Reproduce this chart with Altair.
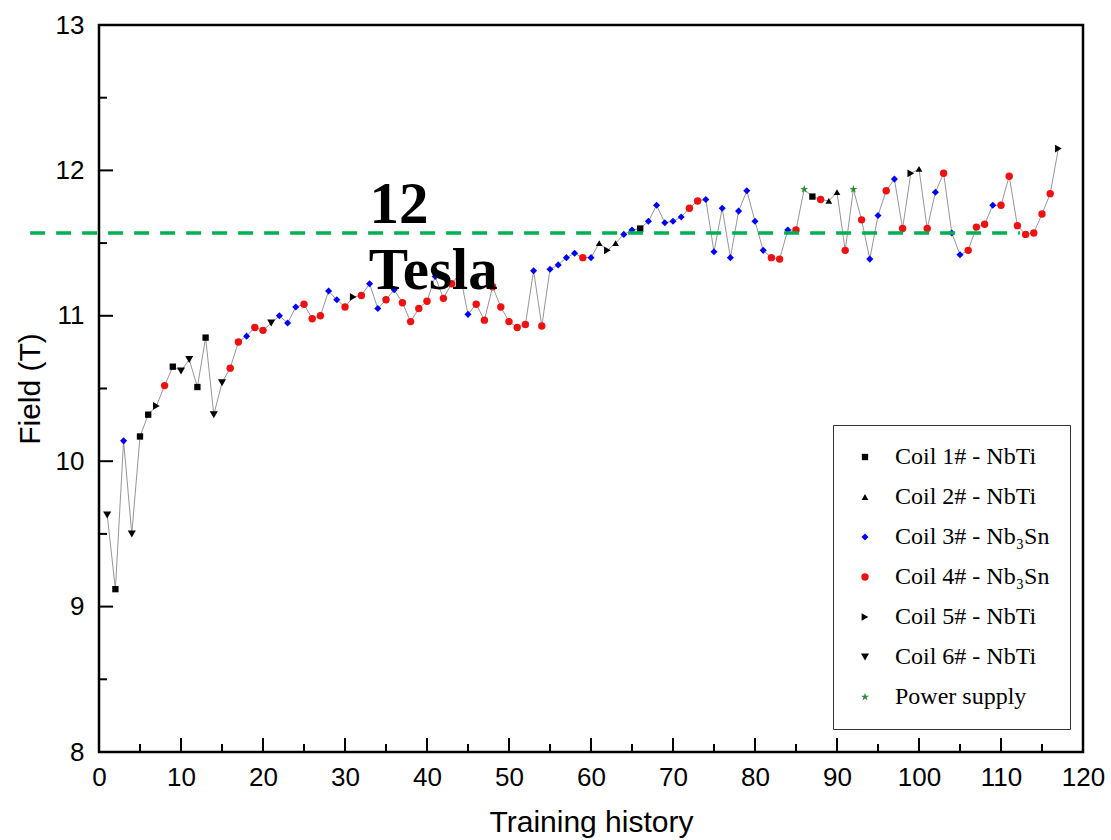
import altair as alt
import pandas as pd

# ---------------- data ----------------
series_names = [
    "Coil 1# - NbTi",
    "Coil 2# - NbTi",
    "Coil 3# - Nb\u2083Sn",
    "Coil 4# - Nb\u2083Sn",
    "Coil 5# - NbTi",
    "Coil 6# - NbTi",
    "Power supply",
]
series_colors = ["#000000", "#000000", "#0000ff", "#ee1111", "#000000", "#000000", "#2e8b2e"]
star_path = ("M0,-1L0.2245,-0.309L0.9511,-0.309L0.3633,0.118L0.5878,0.809L0,0.382"
             "L-0.5878,0.809L-0.3633,0.118L-0.9511,-0.309L-0.2245,-0.309Z")
series_shapes = ["square", "triangle-up", "diamond", "circle", "triangle-right", "triangle-down", star_path]
series_sizes = [40, 70, 90, 64, 70, 70, 90]

# quench sequence: series code (1..6 coils, 7 = power supply) and field (T)
quench_series = [
    6, 1, 3, 6, 1, 1, 5, 4, 1, 6,
    6, 1, 1, 6, 6, 4, 4, 3, 4, 4,
    6, 3, 3, 3, 4, 4, 4, 3, 3, 4,
    5, 4, 3, 3, 4, 3, 4, 4, 4, 4,
    3, 4, 4, 3, 3, 4, 4, 4, 4, 4,
    4, 4, 3, 4, 3, 3, 3, 3, 4, 3,
    2, 5, 2, 3, 3, 1, 3, 3, 3, 3,
    3, 4, 4, 3, 3, 3, 3, 3, 3, 3,
    3, 4, 4, 3, 4, 7, 1, 4, 2, 2,
    4, 7, 4, 3, 3, 4, 3, 4, 5, 2,
    4, 3, 4, 3, 3, 4, 4, 4, 3, 4,
    4, 4, 4, 4, 4, 4, 5,
]
quench_field = [
    9.63, 9.12, 10.14, 9.50, 10.17, 10.32, 10.38, 10.52, 10.65, 10.62,
    10.70, 10.51, 10.85, 10.32, 10.54, 10.64, 10.82, 10.86, 10.92, 10.90,
    10.95, 11.00, 10.95, 11.06, 11.08, 10.98, 11.00, 11.17, 11.11, 11.06,
    11.13, 11.14, 11.22, 11.05, 11.11, 11.18, 11.09, 10.96, 11.05, 11.10,
    11.27, 11.12, 11.22, 11.29, 11.01, 11.08, 10.97, 11.20, 11.06, 10.96,
    10.92, 10.94, 11.31, 10.93, 11.32, 11.35, 11.40, 11.43, 11.40, 11.40,
    11.50, 11.45, 11.50, 11.56, 11.59, 11.60, 11.65, 11.76, 11.64, 11.65,
    11.68, 11.74, 11.79, 11.80, 11.44, 11.74, 11.40, 11.72, 11.86, 11.65,
    11.45, 11.40, 11.39, 11.59, 11.59, 11.87, 11.82, 11.80, 11.79, 11.85,
    11.45, 11.87, 11.66, 11.39, 11.69, 11.86, 11.94, 11.60, 11.98, 12.01,
    11.60, 11.85, 11.98, 11.57, 11.42, 11.45, 11.61, 11.63, 11.76, 11.76,
    11.96, 11.62, 11.56, 11.57, 11.70, 11.84, 12.15,
]
quench_index = list(range(1, len(quench_field) + 1))

ref_level = 11.57
ref_x = [-8.4, 112.3]

note_text = ["12", "Tesla"]
note_x = [33.0, 32.9]
note_y = [11.76, 11.31]

x_major = list(range(0, 121, 10))
x_minor = list(range(5, 120, 10))
y_major = [8, 9, 10, 11, 12, 13]
y_minor = [8.5, 9.5, 10.5, 11.5, 12.5]

# ---------------- tables ----------------
df = pd.DataFrame({
    "idx": quench_index,
    "field": quench_field,
    "series": [series_names[c - 1] for c in quench_series],
})
ref_df = pd.DataFrame({"idx": ref_x, "field": [ref_level] * len(ref_x)})
note_df = pd.DataFrame({"text": note_text, "idx": note_x, "field": note_y})
xmaj_df = pd.DataFrame({"idx": x_major})
xmin_df = pd.DataFrame({"idx": x_minor})
ymaj_df = pd.DataFrame({"field": y_major})
ymin_df = pd.DataFrame({"field": y_minor})

W, H = 984, 727
xs = alt.Scale(domain=[0, 120], nice=False, zero=False)
ys = alt.Scale(domain=[8, 13], nice=False, zero=False)

sans = "Liberation Sans"
serif = "Liberation Serif"

x_axis = alt.Axis(values=x_major, title="Training history", labelFont=sans, labelFontSize=26,
                  labelColor="black", titleFont=sans, titleFontSize=30, titleFontWeight="normal",
                  titleColor="black", ticks=False, domain=False, grid=False, labelPadding=12,
                  labelFlush=False, labelOverlap=False, titleY=70, titleBaseline="middle")
y_axis = alt.Axis(values=y_major, title="Field (T)", labelFont=sans, labelFontSize=26,
                  labelColor="black", titleFont=sans, titleFontSize=30, titleFontWeight="normal",
                  titleColor="black", ticks=False, domain=False, grid=False, labelPadding=15,
                  labelOverlap=False, titleX=-69, titleY=H / 2, titleAlign="center",
                  titleBaseline="middle", titleAngle=270)

X = alt.X("idx:Q", scale=xs, axis=x_axis)
Y = alt.Y("field:Q", scale=ys, axis=y_axis)

line = alt.Chart(df).mark_line(color="#8a8a8a", strokeWidth=0.9).encode(
    x=X, y=Y, order="idx:Q",
)

legend = alt.Legend(title=None, orient="none", legendX=734, legendY=400,
                    strokeColor="#333333", fillColor="white", padding=20,
                    labelFont=serif, labelFontSize=24, labelColor="black", labelLimit=300,
                    symbolSize=30, rowPadding=16, labelOffset=18, symbolStrokeWidth=0)

points = alt.Chart(df).mark_point(filled=True, opacity=1).encode(
    x=X, y=Y,
    color=alt.Color("series:N", scale=alt.Scale(domain=series_names, range=series_colors), legend=legend),
    shape=alt.Shape("series:N", scale=alt.Scale(domain=series_names, range=series_shapes), legend=legend),
    size=alt.Size("series:N", scale=alt.Scale(domain=series_names, range=series_sizes), legend=None),
)

ref_line = alt.Chart(ref_df).mark_line(color="#00b050", strokeWidth=3.5, strokeDash=[15, 11]).encode(
    x=X, y=Y,
)

def yticks(d, length):
    return alt.Chart(d).mark_rule(color="black", strokeWidth=2).encode(
        y=Y, x=alt.value(0), x2=alt.value(length))

def xticks(d, length):
    return alt.Chart(d).mark_rule(color="black", strokeWidth=2).encode(
        x=X, y=alt.value(H), y2=alt.value(H - length))

notes = alt.Chart(note_df).mark_text(font=serif, fontWeight="bold", fontSize=59, align="left",
                                     baseline="middle", color="black").encode(
    x=X, y=Y, text="text:N",
)

chart = alt.layer(
    line, points, ref_line,
    yticks(ymaj_df, 14), yticks(ymin_df, 8),
    xticks(xmaj_df, 14), xticks(xmin_df, 8),
    notes,
).properties(
    width=W, height=H,
    autosize=alt.AutoSizeParams(type="none"),
    padding={"left": 99, "top": 25, "right": 28, "bottom": 88},
    background="white",
).configure_view(stroke="black", strokeWidth=2.5)

chart.save("out.html", embed_options={"renderer": "svg", "actions": False})
